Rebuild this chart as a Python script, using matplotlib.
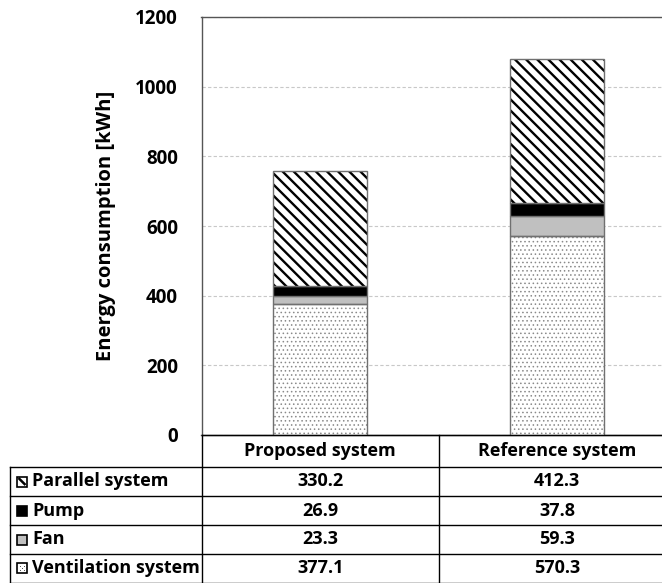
import matplotlib
matplotlib.use("Agg")
import matplotlib.pyplot as plt
from matplotlib.patches import Rectangle
from matplotlib.lines import Line2D

systems = ["Proposed system", "Reference system"]
components = ["Ventilation system", "Fan", "Pump", "Parallel system"]
ventilation = [377.1, 570.3]
fan = [23.3, 59.3]
pump = [26.9, 37.8]
parallel = [330.2, 412.3]
yticks = [0, 200, 400, 600, 800, 1000, 1200]

plt.rcParams['font.family'] = ['Open Sans', 'DejaVu Sans']

W, H = 662, 583
fig = plt.figure(figsize=(W / 100, H / 100), dpi=100)

def fx(px):
    return px / W

def fy(py):
    return 1 - py / H

ax_l, ax_r, ax_t, ax_b = 201.5, 675.5, 17, 435
ax = fig.add_axes([fx(ax_l), fy(ax_b), fx(ax_r - ax_l), fy(ax_t) - fy(ax_b)])

x = [0, 1]
bw = 0.4
styles = {
    "Ventilation system": dict(color="white", hatch="....", hcolor="#8a8a8a", hlw=0.6),
    "Fan": dict(color="#c0c0c0", hatch=None, hcolor=None, hlw=1.0),
    "Pump": dict(color="black", hatch=None, hcolor=None, hlw=1.0),
    "Parallel system": dict(color="white", hatch="\\\\\\", hcolor="black", hlw=1.7),
}
data = {"Ventilation system": ventilation, "Fan": fan, "Pump": pump, "Parallel system": parallel}

bottom = [0, 0]
for comp in components:
    vals = data[comp]
    st = styles[comp]
    if st["hatch"]:
        with plt.rc_context({'hatch.linewidth': st["hlw"]}):
            ax.bar(x, vals, bw, bottom=bottom, color=st["color"], hatch=st["hatch"],
                   edgecolor=st["hcolor"], linewidth=0, zorder=3)
        ax.bar(x, vals, bw, bottom=bottom, color="none", edgecolor="#707070",
               linewidth=1.0, zorder=4)
    else:
        ax.bar(x, vals, bw, bottom=bottom, color=st["color"], edgecolor="#707070",
               linewidth=1.0, zorder=3)
    bottom = [b + v for b, v in zip(bottom, vals)]

ax.set_xlim(-0.5, 1.5)
ax.set_ylim(0, 1200)
ax.set_yticks(yticks)
ax.set_yticklabels([str(t) for t in yticks], fontsize=13.5, fontweight="bold")
ax.tick_params(axis="y", length=0, pad=17)
ax.set_xticks([])
ax.grid(axis="y", color="#c8c8c8", linestyle=(0, (3, 2)), linewidth=0.8, zorder=0)
for s in ax.spines.values():
    s.set_color("#555555")
    s.set_linewidth(1.0)
ax.set_ylabel("Energy consumption [kWh]", fontsize=14.5, fontweight="bold", labelpad=14)

# table
row_lines = [435, 467, 496, 525, 554, 582.5]
col_lines = [10, 201.5, 439, 675.5]
lw = 1.0
fig.add_artist(Line2D([fx(col_lines[1]), fx(col_lines[3])], [fy(row_lines[0])] * 2, color="black", lw=lw))
for py in row_lines[1:]:
    fig.add_artist(Line2D([fx(col_lines[0]), fx(col_lines[3])], [fy(py)] * 2, color="black", lw=lw))
for i, px in enumerate(col_lines):
    top = row_lines[0] if i > 0 else row_lines[1]
    fig.add_artist(Line2D([fx(px)] * 2, [fy(top), fy(row_lines[-1])], color="black", lw=lw))
col_centers = [(col_lines[1] + col_lines[2]) / 2, 557]
for cx, name in zip(col_centers, systems):
    fig.text(fx(cx), fy((row_lines[0] + row_lines[1]) / 2), name, ha="center", va="center",
             fontsize=13, fontweight="bold")

table_order = ["Parallel system", "Pump", "Fan", "Ventilation system"]
for r, comp in enumerate(table_order):
    y0, y1 = row_lines[r + 1], row_lines[r + 2]
    yc = (y0 + y1) / 2
    st = styles[comp]
    ks = 10
    kx, ky = 17, yc - ks / 2
    face = st["color"] if st["hatch"] is None else "white"
    fig.add_artist(Rectangle((fx(kx), fy(ky + ks)), fx(ks), fy(0) - fy(ks), transform=fig.transFigure,
                             facecolor=face, edgecolor="black", linewidth=1.2))
    if comp == "Parallel system":
        fig.add_artist(Line2D([fx(kx + 1.5), fx(kx + ks - 1.5)], [fy(ky + 1.5), fy(ky + ks - 1.5)],
                              color="black", lw=1.8, solid_capstyle="butt"))
    elif comp == "Ventilation system":
        for dx, dy in [(3, 3), (7, 3), (5, 5), (3, 7), (7, 7)]:
            fig.add_artist(Rectangle((fx(kx + dx - 0.5), fy(ky + dy + 0.5)), fx(1.2), fy(0) - fy(1.2),
                                     transform=fig.transFigure, facecolor="#555555", linewidth=0))
    fig.text(fx(32), fy(yc), comp, ha="left", va="center", fontsize=13, fontweight="bold")
    vals = data[comp]
    for cx, v in zip(col_centers, vals):
        fig.text(fx(cx), fy(yc), f"{v:.1f}", ha="center", va="center", fontsize=13, fontweight="bold")

fig.savefig("out.png", dpi=100)
